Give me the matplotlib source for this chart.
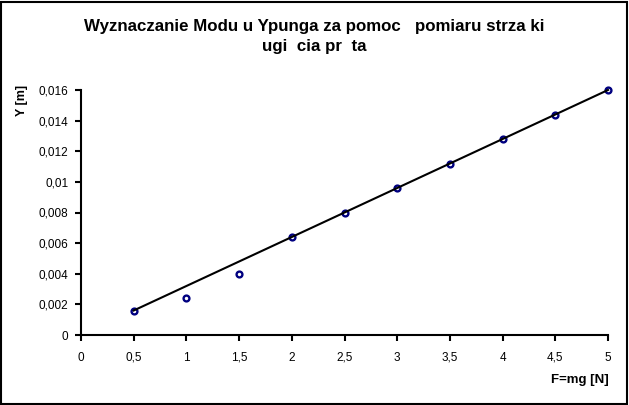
import matplotlib
matplotlib.use("Agg")
import matplotlib.pyplot as plt
from matplotlib.patches import Rectangle

plt.rcParams['font.family'] = ['Liberation Sans', 'DejaVu Sans']

force = [0.5, 1.0, 1.5, 2.0, 2.5, 3.0, 3.5, 4.0, 4.5, 5.0]
deflection = [0.0016, 0.0024, 0.0040, 0.0064, 0.0080, 0.0096, 0.0112, 0.0128, 0.0144, 0.0160]
trend_x = [0.5, 5.0]
trend_y = [0.0016, 0.0160]

x_ticks = [0, 0.5, 1, 1.5, 2, 2.5, 3, 3.5, 4, 4.5, 5]
x_labels = ["0", "0,5", "1", "1,5", "2", "2,5", "3", "3,5", "4", "4,5", "5"]
y_ticks = [0, 0.002, 0.004, 0.006, 0.008, 0.01, 0.012, 0.014, 0.016]
y_labels = ["0", "0,002", "0,004", "0,006", "0,008", "0,01", "0,012", "0,014", "0,016"]

title = "Wyznaczanie Modu u Ypunga za pomoc   pomiaru strza ki\nugi  cia pr  ta"

fig = plt.figure(figsize=(6.29, 4.05), dpi=100)
ax = fig.add_axes([81/629, 70/405, 527/629, 245/405])

ax.plot(force, deflection, linestyle='none', marker='o', ms=4.2, mew=1.7,
        mec='#000080', mfc='white', zorder=2, clip_on=False)
ax.plot(trend_x, trend_y, color='black', lw=1.5, zorder=3, clip_on=False)

ax.set_xlim(0, 5)
ax.set_ylim(0, 0.016)
ax.set_xticks(x_ticks)
ax.set_xticklabels(x_labels)
ax.set_yticks(y_ticks)
ax.set_yticklabels(y_labels)
ax.tick_params(axis='both', labelsize=8.5, width=1.5, length=4, direction='out')
ax.tick_params(axis='y', pad=5)
ax.tick_params(axis='x', pad=8)
for s in ['top', 'right']:
    ax.spines[s].set_visible(False)
for s in ['left', 'bottom']:
    ax.spines[s].set_linewidth(1.5)

fig.text(0.5, 1 - 36.5/405, title, ha='center', va='center', fontsize=12.2,
         fontweight='bold', linespacing=1.5)
fig.text(22/629, 1 - 100/405, "Y [m]", rotation=90, ha='center', va='center',
         fontsize=9, fontweight='bold')
fig.text(609/629, 1 - 380/405, "F=mg [N]", ha='right', va='center',
         fontsize=9.5, fontweight='bold')

fig.patches.append(Rectangle((0.002, 0.003), 0.995, 0.993, transform=fig.transFigure,
                             fill=False, edgecolor='black', lw=1.5))

fig.savefig("out.png", dpi=100)
